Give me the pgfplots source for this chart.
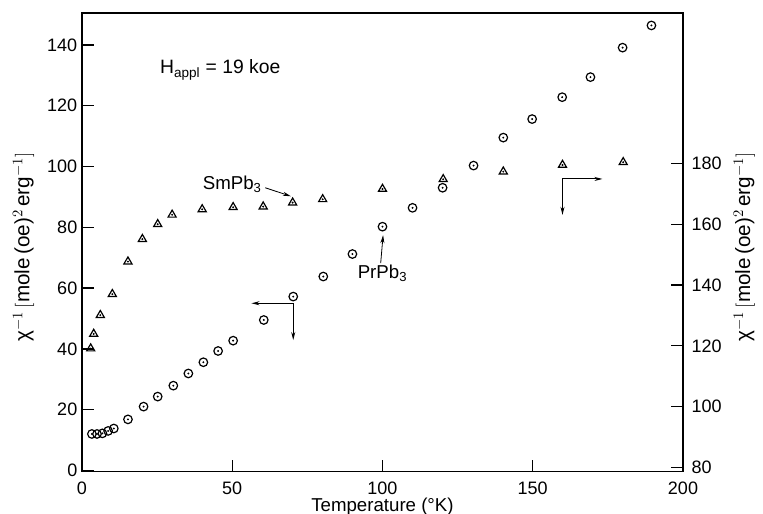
\documentclass[border=0pt]{standalone}
\usepackage{fontspec}
\setmainfont{Liberation Sans}
\usepackage{pgfplots}
\pgfplotsset{compat=1.18}
\usetikzlibrary{arrows.meta}

\pgfplotstableread{
T v
3.3 12.0
5.0 12.0
6.8 12.2
8.7 13.0
10.6 13.8
15.3 16.8
20.5 21.0
25.2 24.3
30.4 27.9
35.4 31.9
40.4 35.6
45.3 39.3
50.3 42.7
60.5 49.5
70.3 57.2
80.3 63.8
90.0 71.2
100.0 80.2
110.0 86.4
120.0 93.0
130.3 100.3
140.2 109.5
149.8 115.6
159.8 122.8
169.2 129.4
179.9 139.1
189.5 146.4
}\prpb

\pgfplotstableread{
T v
2.9 119.1
3.9 123.9
6.1 130.1
10.1 137.0
15.3 147.7
20.1 155.1
25.2 160.0
30.0 163.1
40.0 164.9
50.3 165.6
60.3 165.8
70.1 167.1
80.1 168.2
100.0 171.6
120.2 174.8
140.2 177.3
159.9 179.5
180.1 180.4
}\smpb

\pgfplotsset{
  common/.style={
    width=450.75pt, height=344pt, scale only axis,
    xmin=0, xmax=200,
    /pgf/number format/assume math mode=true,
    tick label style={font=\fontsize{13.5}{15}\selectfont},
    label style={font=\fontsize{14}{16}\selectfont},
    axis line style={line width=1.1pt},
    major tick length=9pt,
    tick style={line width=1pt, black},
    tick align=inside,
  }
}

\begin{document}
\begin{tikzpicture}
\begin{axis}[common,
  ymin=-0.4, ymax=150.5,
  xtick={0,50,100,150,200},
  ytick={0,20,...,140},
  xtick pos=bottom, ytick pos=left,
  xticklabel style={yshift=-4pt},
  clip=false,
  xlabel={Temperature (°K)},
  xlabel style={at={(rel axis cs:0.5,-0.076)}, anchor=center},
  ylabel={χ$^{-1}$\,$\Big[$mole\,(oe)$^{2}$\,erg$^{-1}\Big]$},
  ylabel style={at={(rel axis cs:-0.097,0.49)}, anchor=center, font=\fontsize{15.5}{17}\selectfont},
]
\addplot[only marks, mark=o, mark size=3.2pt, mark options={line width=0.9pt}] table[x=T,y=v] {\prpb};
\addplot[only marks, mark=*, mark size=0.5pt] table[x=T,y=v] {\prpb};

\coordinate (bl) at (rel axis cs:-0.1364,-0.0922);
\coordinate (tr) at (rel axis cs:1.1331,1.0283);

\node[font=\fontsize{14.5}{16}\selectfont] at (axis cs:46,131.8) {H\textsubscript{appl} = 19 koe};
\node[font=\fontsize{14}{16}\selectfont] at (axis cs:50,94) {SmPb\textsubscript{3}};
\draw[line width=0.6pt, -{Stealth[length=6pt,width=3pt]}] (axis cs:61,93) -- (axis cs:69.5,90.2);
\node[font=\fontsize{14}{16}\selectfont] at (axis cs:100,65.0) {PrPb\textsubscript{3}};
\draw[line width=0.6pt, -{Stealth[length=6pt,width=3pt]}] (axis cs:99.4,68.2) -- (axis cs:100.2,77.4);
% left-axis pointer
\draw[line width=0.8pt, -{Stealth[length=6pt,width=3pt]}] (axis cs:70.3,55.0) -- (axis cs:56.4,55.0);
\draw[line width=0.8pt, -{Stealth[length=6pt,width=3pt]}] (axis cs:70.3,55.0) -- (axis cs:70.3,42.9);
% right-axis pointer
\draw[line width=0.8pt, -{Stealth[length=6pt,width=3pt]}] (axis cs:159.9,95.9) -- (axis cs:173.2,95.9);
\draw[line width=0.8pt, -{Stealth[length=6pt,width=3pt]}] (axis cs:159.9,95.9) -- (axis cs:159.9,84.1);
\end{axis}

\begin{axis}[common,
  ymin=78.6, ymax=229.5,
  axis y line*=right, axis x line=none,
  ytick={80,100,...,180},
  yticklabel style={xshift=3pt},
  ylabel={χ$^{-1}$\,$\Big[$mole\,(oe)$^{2}$\,erg$^{-1}\Big]$},
  ylabel style={at={(rel axis cs:1.102,0.49)}, anchor=center, rotate=0, font=\fontsize{15.5}{17}\selectfont},
]
\addplot[only marks, mark=triangle, mark size=3.5pt, mark options={line width=0.9pt}] table[x=T,y=v] {\smpb};
\addplot[only marks, mark=*, mark size=0.5pt] table[x=T,y=v] {\smpb};
\end{axis}
\pgfresetboundingbox
\path[use as bounding box] (bl) rectangle (tr);
\end{tikzpicture}
\end{document}
